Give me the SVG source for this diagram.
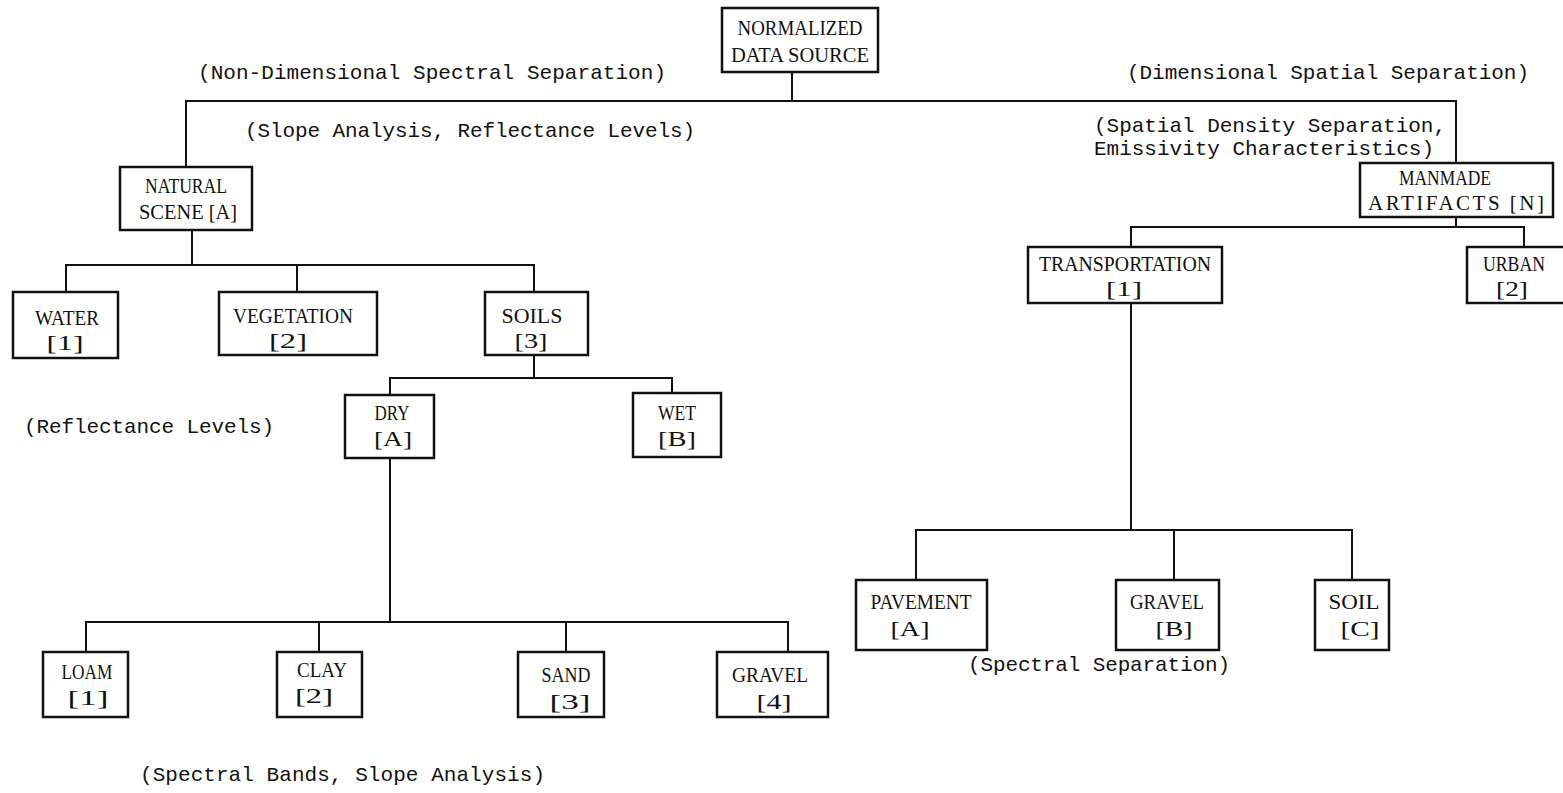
<svg xmlns="http://www.w3.org/2000/svg" width="1563" height="793" viewBox="0 0 1563 793">
<style>
.box{fill:none;stroke:#111;stroke-width:2.5}
.conn{fill:none;stroke:#111;stroke-width:2}
.lbl{font-family:"Liberation Serif",serif;font-size:21px;text-anchor:middle;fill:#111}
.note{font-family:"Liberation Mono",monospace;font-size:21px;fill:#111}
</style>
<rect width="1563" height="793" fill="#fff"/>
<g id="connectors">
<path class="conn" d="M792 72V101"/>
<path class="conn" d="M186 167V101H1456V163"/>
<path class="conn" d="M192 230V265"/>
<path class="conn" d="M66 292V265H534V292"/>
<path class="conn" d="M297 265V292"/>
<path class="conn" d="M534 355V378"/>
<path class="conn" d="M390 395V378H672V393"/>
<path class="conn" d="M390 458V622"/>
<path class="conn" d="M86 652V622H788V652"/>
<path class="conn" d="M319 622V652"/>
<path class="conn" d="M566 622V652"/>
<path class="conn" d="M1456 217V227"/>
<path class="conn" d="M1131 247V227H1524V247"/>
<path class="conn" d="M1131 303V530"/>
<path class="conn" d="M916 580V530H1352V580"/>
<path class="conn" d="M1174 530V580"/>
</g>
<g id="notes">
<text class="note" x="198" y="79" textLength="468">(Non-Dimensional Spectral Separation)</text>
<text class="note" x="1127" y="79" textLength="402">(Dimensional Spatial Separation)</text>
<text class="note" x="245" y="137" textLength="450">(Slope Analysis, Reflectance Levels)</text>
<text class="note" x="1094" y="132" textLength="352">(Spatial Density Separation,</text>
<text class="note" x="1094" y="155" textLength="340">Emissivity Characteristics)</text>
<text class="note" x="24" y="433" textLength="250">(Reflectance Levels)</text>
<text class="note" x="140" y="781" textLength="405">(Spectral Bands, Slope Analysis)</text>
<text class="note" x="968" y="671" textLength="262">(Spectral Separation)</text>
</g>
<g id="normalized">
<rect class="box" x="722" y="8" width="156" height="64"/>
<text class="lbl" x="800" y="35" textLength="125" lengthAdjust="spacingAndGlyphs">NORMALIZED</text>
<text class="lbl" x="800" y="62" textLength="138" lengthAdjust="spacingAndGlyphs">DATA SOURCE</text>
</g>
<g id="natural">
<rect class="box" x="120" y="167" width="132" height="63"/>
<text class="lbl" x="186" y="193" textLength="82" lengthAdjust="spacingAndGlyphs">NATURAL</text>
<text class="lbl" x="188" y="219" textLength="98" lengthAdjust="spacingAndGlyphs">SCENE [A]</text>
</g>
<g id="water">
<rect class="box" x="13" y="292" width="105" height="66"/>
<text class="lbl" x="67" y="325" textLength="64" lengthAdjust="spacingAndGlyphs">WATER</text>
<text class="lbl" x="65" y="350" textLength="37" lengthAdjust="spacingAndGlyphs">[1]</text>
</g>
<g id="vegetation">
<rect class="box" x="219" y="292" width="158" height="63"/>
<text class="lbl" x="293" y="323" textLength="120" lengthAdjust="spacingAndGlyphs">VEGETATION</text>
<text class="lbl" x="288" y="348" textLength="38" lengthAdjust="spacingAndGlyphs">[2]</text>
</g>
<g id="soils">
<rect class="box" x="485" y="292" width="103" height="63"/>
<text class="lbl" x="532" y="323" textLength="61" lengthAdjust="spacingAndGlyphs">SOILS</text>
<text class="lbl" x="531" y="348" textLength="33" lengthAdjust="spacingAndGlyphs">[3]</text>
</g>
<g id="dry">
<rect class="box" x="345" y="395" width="89" height="63"/>
<text class="lbl" x="392" y="420" textLength="35" lengthAdjust="spacingAndGlyphs">DRY</text>
<text class="lbl" x="393" y="446" textLength="38" lengthAdjust="spacingAndGlyphs">[A]</text>
</g>
<g id="wet">
<rect class="box" x="633" y="393" width="88" height="64"/>
<text class="lbl" x="677" y="420" textLength="38" lengthAdjust="spacingAndGlyphs">WET</text>
<text class="lbl" x="677" y="446" textLength="38" lengthAdjust="spacingAndGlyphs">[B]</text>
</g>
<g id="loam">
<rect class="box" x="43" y="652" width="85" height="65"/>
<text class="lbl" x="87" y="679" textLength="51" lengthAdjust="spacingAndGlyphs">LOAM</text>
<text class="lbl" x="88" y="705" textLength="41" lengthAdjust="spacingAndGlyphs">[1]</text>
</g>
<g id="clay">
<rect class="box" x="277" y="652" width="85" height="65"/>
<text class="lbl" x="322" y="677" textLength="50" lengthAdjust="spacingAndGlyphs">CLAY</text>
<text class="lbl" x="314" y="703" textLength="38" lengthAdjust="spacingAndGlyphs">[2]</text>
</g>
<g id="sand">
<rect class="box" x="518" y="652" width="86" height="65"/>
<text class="lbl" x="566" y="682" textLength="49" lengthAdjust="spacingAndGlyphs">SAND</text>
<text class="lbl" x="570" y="709" textLength="41" lengthAdjust="spacingAndGlyphs">[3]</text>
</g>
<g id="gravel4">
<rect class="box" x="717" y="652" width="111" height="65"/>
<text class="lbl" x="770" y="682" textLength="76" lengthAdjust="spacingAndGlyphs">GRAVEL</text>
<text class="lbl" x="774" y="709" textLength="35" lengthAdjust="spacingAndGlyphs">[4]</text>
</g>
<g id="manmade">
<rect class="box" x="1360" y="163" width="193" height="54"/>
<text class="lbl" x="1445" y="185" textLength="92" lengthAdjust="spacingAndGlyphs">MANMADE</text>
<text class="lbl" x="1456" y="210" textLength="176">ARTIFACTS [N]</text>
</g>
<g id="transportation">
<rect class="box" x="1028" y="247" width="194" height="56"/>
<text class="lbl" x="1125" y="271" textLength="172" lengthAdjust="spacingAndGlyphs">TRANSPORTATION</text>
<text class="lbl" x="1124" y="296" textLength="36" lengthAdjust="spacingAndGlyphs">[1]</text>
</g>
<g id="urban">
<rect class="box" x="1467" y="247" width="100" height="56"/>
<text class="lbl" x="1514" y="271" textLength="62" lengthAdjust="spacingAndGlyphs">URBAN</text>
<text class="lbl" x="1512" y="296" textLength="32" lengthAdjust="spacingAndGlyphs">[2]</text>
</g>
<g id="pavement">
<rect class="box" x="856" y="580" width="131" height="70"/>
<text class="lbl" x="921" y="609" textLength="101" lengthAdjust="spacingAndGlyphs">PAVEMENT</text>
<text class="lbl" x="910" y="636" textLength="39" lengthAdjust="spacingAndGlyphs">[A]</text>
</g>
<g id="gravelB">
<rect class="box" x="1116" y="580" width="103" height="70"/>
<text class="lbl" x="1167" y="609" textLength="74" lengthAdjust="spacingAndGlyphs">GRAVEL</text>
<text class="lbl" x="1174" y="636" textLength="37" lengthAdjust="spacingAndGlyphs">[B]</text>
</g>
<g id="soilC">
<rect class="box" x="1315" y="580" width="74" height="70"/>
<text class="lbl" x="1354" y="609" textLength="51" lengthAdjust="spacingAndGlyphs">SOIL</text>
<text class="lbl" x="1360" y="636" textLength="39" lengthAdjust="spacingAndGlyphs">[C]</text>
</g>
</svg>
